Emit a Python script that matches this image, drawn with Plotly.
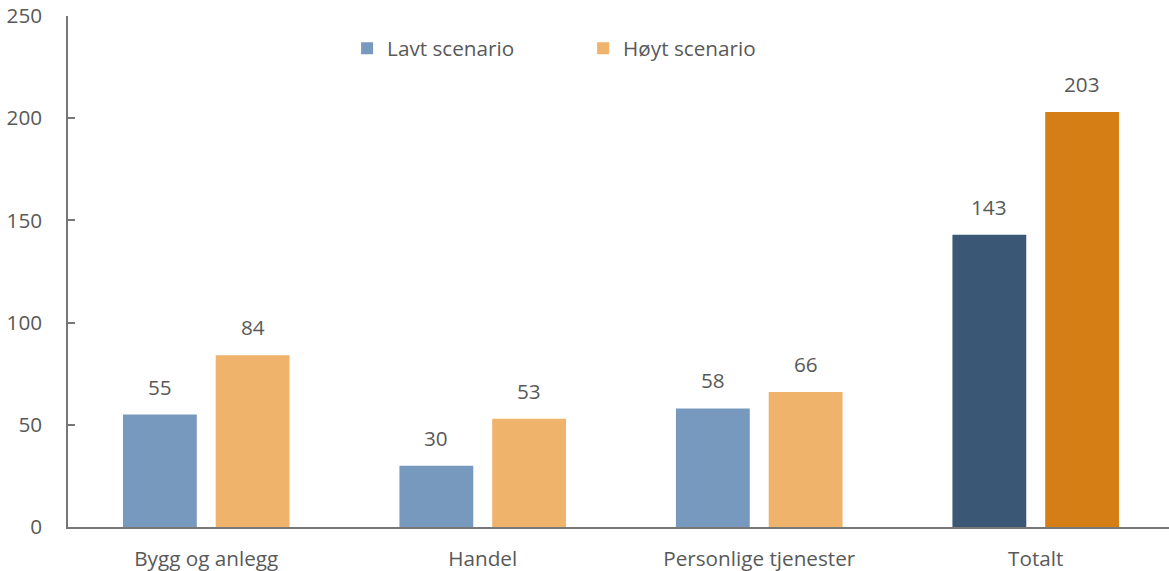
import plotly.graph_objects as go

categories = ["Bygg og anlegg", "Handel", "Personlige tjenester", "Totalt"]
lavt = [55, 30, 58, 143]
hoyt = [84, 53, 66, 203]
lavt_colors = ["#7799bd", "#7799bd", "#7799bd", "#3a5775"]
hoyt_colors = ["#efb36c", "#efb36c", "#efb36c", "#d67e16"]

FONT = "Open Sans"
FS = 20.7
TXT = "#595959"
LINE = "#777777"

fig = go.Figure()
fig.add_trace(go.Bar(name="Lavt scenario", x=categories, y=lavt,
                     marker=dict(color=lavt_colors, line=dict(width=0))))
fig.add_trace(go.Bar(name="Høyt scenario", x=categories, y=hoyt,
                     marker=dict(color=hoyt_colors, line=dict(width=0))))

ann = []
for c, v in zip(categories, lavt):
    ann.append(dict(x=c, y=v, text=str(v), showarrow=False, xshift=-46.5, yshift=28,
                    yanchor="middle", font=dict(family=FONT, size=FS, color=TXT)))
for c, v in zip(categories, hoyt):
    ann.append(dict(x=c, y=v, text=str(v), showarrow=False, xshift=46.5, yshift=28,
                    yanchor="middle", font=dict(family=FONT, size=FS, color=TXT)))

fig.update_layout(
    width=1169, height=571,
    margin=dict(l=68, r=0, t=16, b=44),
    plot_bgcolor="white", paper_bgcolor="white",
    barmode="group", bargap=0.329, bargroupgap=0.204,
    font=dict(family=FONT, size=FS, color=TXT),
    showlegend=True,
    legend=dict(orientation="h", x=0.2535, y=0.937, xanchor="left", yanchor="middle",
                entrywidth=191, entrywidthmode="pixels",
                font=dict(family=FONT, size=FS, color=TXT), bgcolor="rgba(0,0,0,0)"),
    annotations=ann,
    xaxis=dict(showline=True, linecolor=LINE, linewidth=1.5, ticks="", automargin=False,
               range=[-0.5, 3.482],
               tickfont=dict(family=FONT, size=FS, color=TXT), ticklabelstandoff=12),
    yaxis=dict(range=[0, 250], dtick=50, showgrid=False, zeroline=False, automargin=False,
               showline=True, linecolor=LINE, linewidth=1.5,
               ticks="inside", ticklen=7, tickcolor=LINE, tickwidth=1.5,
               tickfont=dict(family=FONT, size=FS, color=TXT), ticklabelstandoff=20),
)

fig.write_html("out.html", config={"displayModeBar": False},
               post_script="document.body.style.margin='0';")
